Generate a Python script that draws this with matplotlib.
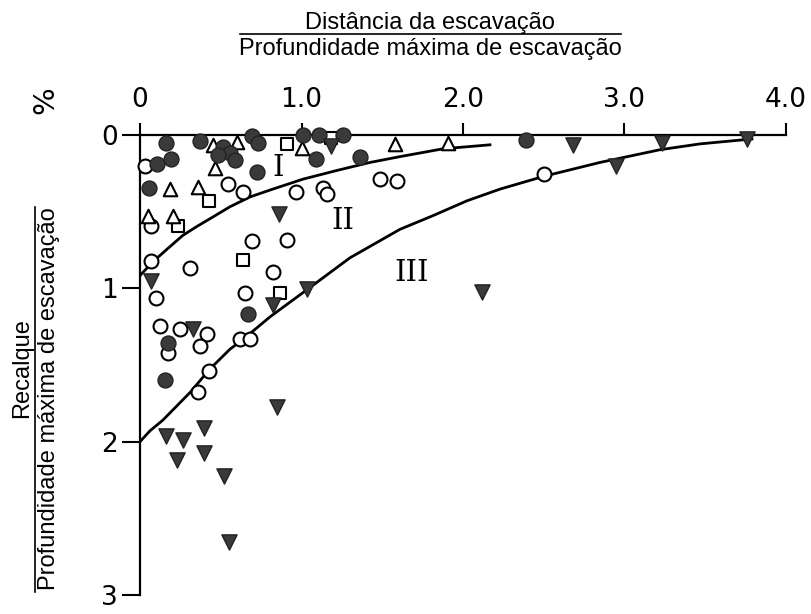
import matplotlib.pyplot as plt
from matplotlib.lines import Line2D

# curvas limite das zonas I/II e II/III
limite_I_x = [0, 0.074, 0.155, 0.266, 0.353, 0.446, 0.557, 0.681, 0.805, 1.009,
              1.220, 1.424, 1.610, 1.876, 2.167]
limite_I_y = [0.917, 0.833, 0.756, 0.654, 0.596, 0.538, 0.468, 0.404, 0.359, 0.288,
              0.231, 0.179, 0.141, 0.090, 0.064]
limite_II_x = [0, 0.062, 0.142, 0.310, 0.433, 0.557, 0.638, 0.805, 0.929, 1.053,
               1.300, 1.610, 1.814, 2.025, 2.229, 2.502, 2.848, 3.220, 3.467, 3.789]
limite_II_y = [2.0, 1.929, 1.859, 1.679, 1.526, 1.397, 1.333, 1.186, 1.090, 0.994,
               0.801, 0.615, 0.526, 0.429, 0.353, 0.269, 0.179, 0.096, 0.058, 0.026]

# medições (distância/profundidade, recalque/profundidade %)
circ_cheio_x = [0.161, 0.372, 0.192, 0.105, 0.056, 0.724, 0.693, 0.731, 0.514, 0.557,
                0.483, 0.588, 1.009, 1.108, 1.257, 1.090, 1.362, 2.390, 0.669, 0.173, 0.155]
circ_cheio_y = [0.051, 0.038, 0.154, 0.192, 0.346, 0.244, 0.006, 0.051, 0.077, 0.115,
                0.128, 0.160, 0.0, 0.0, 0.0, 0.154, 0.141, 0.032, 1.167, 1.359, 1.596]

circ_vazio_x = [0.031, 0.545, 0.638, 0.068, 0.966, 1.133, 1.158, 1.486, 1.591, 0.693,
                0.910, 0.310, 0.068, 0.824, 0.650, 0.099, 0.124, 0.248, 0.415, 0.372,
                0.173, 0.619, 0.681, 0.427, 0.359, 2.502]
circ_vazio_y = [0.205, 0.321, 0.372, 0.596, 0.372, 0.346, 0.385, 0.288, 0.301, 0.692,
                0.686, 0.865, 0.821, 0.891, 1.032, 1.064, 1.244, 1.263, 1.301, 1.378,
                1.423, 1.333, 1.333, 1.538, 1.679, 0.256]

tri_vazio_x = [0.452, 0.601, 0.464, 0.186, 0.359, 0.050, 0.204, 1.003, 1.579, 1.907]
tri_vazio_y = [0.064, 0.045, 0.212, 0.353, 0.340, 0.526, 0.526, 0.083, 0.058, 0.051]

quad_x = [0.427, 0.235, 0.910, 1.183, 0.638, 0.867]
quad_y = [0.429, 0.596, 0.058, 0.019, 0.814, 1.032]

tri_cheio_x = [1.183, 0.861, 0.068, 0.328, 0.824, 1.034, 0.161, 0.266, 0.396, 0.396,
               0.229, 0.520, 0.551, 0.848, 2.118, 2.681, 2.947, 3.232, 3.759]
tri_cheio_y = [0.071, 0.513, 0.949, 1.263, 1.109, 1.006, 1.962, 1.987, 1.910, 2.071,
               2.122, 2.224, 2.654, 1.776, 1.026, 0.064, 0.205, 0.051, 0.026]

x_ticks = [0, 1, 2, 3, 4]
x_labels = ['0', '1.0', '2.0', '3.0', '4.0']
y_ticks = [0, 1, 2, 3]
y_labels = ['0', '1', '2', '3']

W, H = 812, 614
fig = plt.figure(figsize=(W / 100, H / 100), dpi=100)
ax = fig.add_axes([140 / W, 19 / H, 646 / W, 460 / H])

ax.plot(limite_I_x, limite_I_y, color='black', lw=2.0, zorder=2)
ax.plot(limite_II_x, limite_II_y, color='black', lw=2.0, zorder=2)

cinza = '#3a3a3a'
kw = dict(clip_on=False, zorder=3)
ax.scatter(circ_vazio_x, circ_vazio_y, s=100, marker='o', facecolor='white',
           edgecolor='black', linewidth=1.5, **kw)
ax.scatter(quad_x, quad_y, s=85, marker='s', facecolor='white',
           edgecolor='black', linewidth=1.5, **kw)
ax.scatter(tri_vazio_x, tri_vazio_y, s=95, marker='^', facecolor='white',
           edgecolor='black', linewidth=1.5, **kw)
ax.scatter(circ_cheio_x, circ_cheio_y, s=115, marker='o', facecolor=cinza,
           edgecolor='#222222', linewidth=1.0, **kw)
ax.scatter(tri_cheio_x, tri_cheio_y, s=120, marker='v', facecolor=cinza,
           edgecolor='#222222', linewidth=1.0, **kw)

# zonas
for txt, xx, yy in [('I', 0.855, 0.212), ('II', 1.257, 0.564), ('III', 1.684, 0.897)]:
    ax.text(xx, yy, txt, family='DejaVu Serif', fontsize=21, ha='center', va='center')

ax.set_xlim(0, 4)
ax.set_ylim(3, 0)
ax.xaxis.tick_top()
ax.set_xticks(x_ticks, x_labels)
ax.set_yticks(y_ticks, y_labels)
ax.tick_params(axis='x', direction='out', length=9, width=1.5, pad=7, labelsize=19)
ax.tick_params(axis='y', direction='out', length=13, width=1.5, pad=3, labelsize=19)
for s in ['right', 'bottom']:
    ax.spines[s].set_visible(False)
for s in ['left', 'top']:
    ax.spines[s].set_linewidth(1.6)

# rótulos em forma de fração
fonte = 'Liberation Sans'
fig.text(430 / W, 1 - 23 / H, 'Distância da escavação', ha='center', va='center',
         fontsize=17, family=fonte)
fig.add_artist(Line2D([240 / W, 621 / W], [1 - 34 / H, 1 - 34 / H],
                      transform=fig.transFigure, color='black', lw=1.2))
fig.text(430 / W, 1 - 49 / H, 'Profundidade máxima de escavação', ha='center', va='center',
         fontsize=17, family=fonte)

fig.text(22 / W, 1 - 368 / H, 'Recalque', rotation=90, ha='center', va='center',
         fontsize=17, family=fonte)
fig.add_artist(Line2D([35 / W, 35 / W], [1 - 592 / H, 1 - 207 / H],
                      transform=fig.transFigure, color='black', lw=1.2))
fig.text(49 / W, 1 - 399 / H, 'Profundidade máxima de escavação', rotation=90,
         ha='center', va='center', fontsize=17, family=fonte)
fig.text(45 / W, 1 - 100 / H, '%', rotation=90, ha='center', va='center', fontsize=21)

fig.savefig('out.png', dpi=100)
